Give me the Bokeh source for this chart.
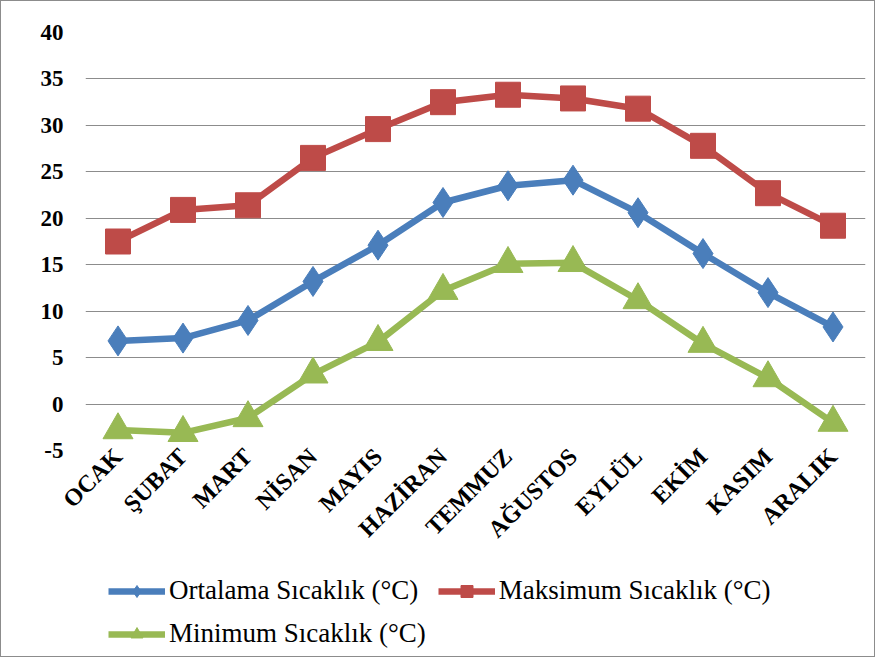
import math
from bokeh.plotting import figure
from bokeh.layouts import column
from bokeh.models import Legend, LegendItem, FixedTicker
from bokeh.embed import file_html
from bokeh.resources import INLINE

months = ["OCAK", "ŞUBAT", "MART", "NİSAN", "MAYIS", "HAZİRAN",
          "TEMMUZ", "AĞUSTOS", "EYLÜL", "EKİM", "KASIM", "ARALIK"]
ortalama = [6.8, 7.1, 9.0, 13.2, 17.1, 21.7, 23.5, 24.1, 20.6, 16.2, 12.0, 8.3]
maksimum = [17.5, 20.9, 21.4, 26.5, 29.6, 32.5, 33.3, 32.9, 31.8, 27.8, 22.7, 19.2]
minimum = [-2.8, -3.1, -1.5, 3.2, 6.7, 12.2, 15.1, 15.2, 11.2, 6.5, 2.8, -2.0]
yticks = [-5, 0, 5, 10, 15, 20, 25, 30, 35, 40]

series_names = ["Ortalama Sıcaklık (°C)", "Maksimum Sıcaklık (°C)", "Minimum Sıcaklık (°C)"]
colors = ["#4A7EBB", "#BE4B48", "#98B954"]
markers = ["diamond", "square", "triangle"]
msizes = [30, 25, 30]

FONT = "Liberation Serif"

p = figure(x_range=months, y_range=(-5, 40), width=873, height=560,
           output_backend="svg", toolbar_location=None,
           min_border_left=84, min_border_right=9,
           min_border_top=31, min_border_bottom=111)
p.outline_line_color = None
p.xgrid.grid_line_color = None
p.ygrid.grid_line_color = "#8c8c8c"
p.ygrid.grid_line_width = 1

p.yaxis.ticker = FixedTicker(ticks=yticks)
p.yaxis.major_label_overrides = {t: str(t) for t in yticks}
for ax in (p.xaxis[0], p.yaxis[0]):
    ax.axis_line_color = None
    ax.major_tick_line_color = None
    ax.minor_tick_line_color = None
    ax.major_tick_out = 0
    ax.major_tick_in = 0
    ax.major_label_text_font = FONT
    ax.major_label_text_font_style = "bold"
    ax.major_label_text_color = "black"
p.yaxis.major_label_text_font_size = "23px"
p.xaxis.major_label_text_font_size = "24px"
p.yaxis.major_label_standoff = 22
p.xaxis.major_label_standoff = 2
p.xaxis.major_label_orientation = math.pi / 4

for vals, c, m, s in zip([ortalama, maksimum, minimum], colors, markers, msizes):
    p.line(months, vals, line_color=c, line_width=6.5)
    p.scatter(months, vals, marker=m, size=s, fill_color=c, line_color=c)

# legend panel beneath the chart (its sample renderers sit outside the visible range)
lf = figure(width=873, height=95, x_range=(0, 1), y_range=(0, 1),
            output_backend="svg", toolbar_location=None,
            x_axis_location=None, y_axis_location=None,
            min_border_left=0, min_border_right=0, min_border_top=0, min_border_bottom=0)
lf.outline_line_color = None
lf.grid.grid_line_color = None
items = []
for name, c, m in zip(series_names, colors, markers):
    ln = lf.line(x=[-5, -4], y=[-5, -5], line_color=c, line_width=6.5)
    sc = lf.scatter(x=[-5], y=[-5], marker=m, size=14, fill_color=c, line_color=c)
    items.append(LegendItem(label=name, renderers=[ln, sc]))

legend = Legend(items=items, location=(23, 7), orientation="horizontal", ncols=2,
                label_text_font=FONT, label_text_font_size="27px",
                label_text_color="black", glyph_width=57, glyph_height=30,
                label_height=30, spacing=12, padding=0, margin=0,
                label_standoff=4, border_line_color=None, background_fill_alpha=0)
lf.add_layout(legend, "center")

layout = column(p, lf, spacing=0)
layout.styles = {"border": "1px solid #8c8c8c"}

open("out.html", "w").write(file_html(layout, INLINE))
